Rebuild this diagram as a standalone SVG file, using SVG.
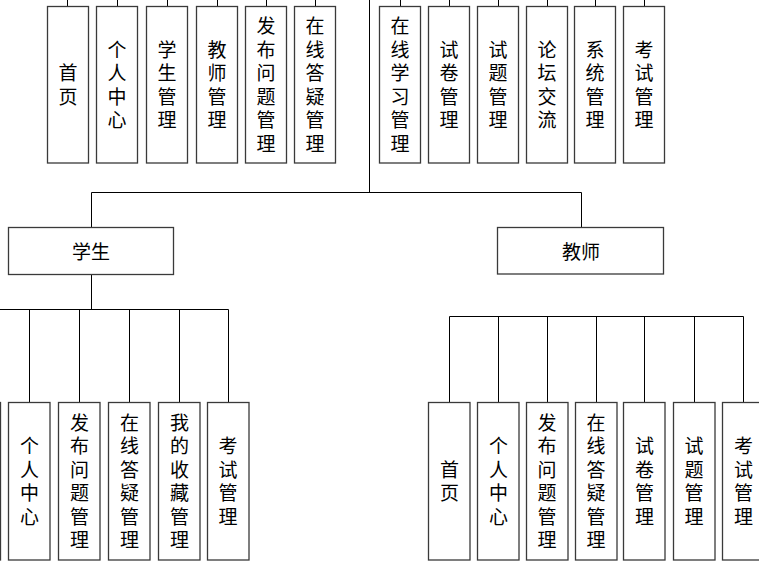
<svg xmlns="http://www.w3.org/2000/svg" width="759" height="562" viewBox="0 0 759 562">
<style>
.box{fill:#fff;stroke:#3a3a3a;stroke-width:1.3}
.ln{fill:none;stroke:#000;stroke-width:1}
.t{font-family:"Noto Sans CJK SC","Liberation Sans",sans-serif;font-size:19px;fill:#000;text-anchor:middle;dominant-baseline:central}
.v{font-family:"Noto Sans CJK SC","Liberation Sans",sans-serif;font-size:19px;fill:#000;text-anchor:middle;writing-mode:vertical-rl;letter-spacing:4.5px}
</style>
<rect width="759" height="562" fill="#fff"/>
<g id="connectors">
<path class="ln" d="M67.5 0V6.5M117.5 0V6.5M167.5 0V6.5M217.5 0V6.5M266.5 0V6.5M315.5 0V6.5M400.5 0V6.5M449.5 0V6.5M498.5 0V6.5M547.5 0V6.5M595.5 0V6.5M644.5 0V6.5"/>
<path class="ln" d="M369.5 0V192.5M91.5 192.5H581.5M91.5 192.5V227.5M581.5 192.5V227.5"/>
<path class="ln" d="M91.5 274.5V309.5M0 309.5H228.5M29.5 309.5V402.5M79.5 309.5V402.5M129.5 309.5V402.5M179.5 309.5V402.5M228.5 309.5V402.5"/>
<path class="ln" d="M449.5 316.5H743.5M449.5 316.5V402.5M498.5 316.5V402.5M547.5 316.5V402.5M596.5 316.5V402.5M644.5 316.5V402.5M694.5 316.5V402.5M743.5 316.5V402.5"/>
</g>
<g id="n-home"><rect class="box" x="47.5" y="6.5" width="41" height="156.5"/><text class="v" x="68" y="87">首页</text></g>
<g id="n-personal"><rect class="box" x="96.5" y="6.5" width="41" height="156.5"/><text class="v" x="117" y="87">个人中心</text></g>
<g id="n-stumgr"><rect class="box" x="146.5" y="6.5" width="41" height="156.5"/><text class="v" x="167" y="87">学生管理</text></g>
<g id="n-teamgr"><rect class="box" x="196.5" y="6.5" width="41" height="156.5"/><text class="v" x="217" y="87">教师管理</text></g>
<g id="n-question"><rect class="box" x="245.5" y="6.5" width="41" height="156.5"/><text class="v" x="266" y="87">发布问题管理</text></g>
<g id="n-answer"><rect class="box" x="294.5" y="6.5" width="41" height="156.5"/><text class="v" x="315" y="87">在线答疑管理</text></g>
<g id="n-study"><rect class="box" x="379.5" y="6.5" width="41" height="156.5"/><text class="v" x="400" y="87">在线学习管理</text></g>
<g id="n-paper"><rect class="box" x="428.5" y="6.5" width="41" height="156.5"/><text class="v" x="449" y="87">试卷管理</text></g>
<g id="n-item"><rect class="box" x="477.5" y="6.5" width="41" height="156.5"/><text class="v" x="498" y="87">试题管理</text></g>
<g id="n-forum"><rect class="box" x="526.5" y="6.5" width="41" height="156.5"/><text class="v" x="547" y="87">论坛交流</text></g>
<g id="n-system"><rect class="box" x="574.5" y="6.5" width="41" height="156.5"/><text class="v" x="595" y="87">系统管理</text></g>
<g id="n-exam"><rect class="box" x="623.5" y="6.5" width="41" height="156.5"/><text class="v" x="644" y="87">考试管理</text></g>
<g id="n-student"><rect class="box" x="8.5" y="227.5" width="165" height="47"/><text class="t" x="91" y="250">学生</text></g>
<g id="n-teacher"><rect class="box" x="497.5" y="227.5" width="166" height="46.5"/><text class="t" x="581" y="250">教师</text></g>
<g id="s-hidden"><rect class="box" x="-41" y="402.5" width="41.5" height="157.5"/></g>
<g id="s-personal"><rect class="box" x="8.5" y="402.5" width="41.5" height="157.5"/><text class="v" x="29.5" y="483.5">个人中心</text></g>
<g id="s-question"><rect class="box" x="58.5" y="402.5" width="41.5" height="157.5"/><text class="v" x="79.5" y="483.5">发布问题管理</text></g>
<g id="s-answer"><rect class="box" x="108.5" y="402.5" width="41.5" height="157.5"/><text class="v" x="129.5" y="483.5">在线答疑管理</text></g>
<g id="s-favorite"><rect class="box" x="158.5" y="402.5" width="41.5" height="157.5"/><text class="v" x="179.5" y="483.5">我的收藏管理</text></g>
<g id="s-exam"><rect class="box" x="207.5" y="402.5" width="41.5" height="157.5"/><text class="v" x="228" y="483.5">考试管理</text></g>
<g id="t-home"><rect class="box" x="428.5" y="402.5" width="41.5" height="157.5"/><text class="v" x="449.5" y="483.5">首页</text></g>
<g id="t-personal"><rect class="box" x="477.5" y="402.5" width="41.5" height="157.5"/><text class="v" x="498.5" y="483.5">个人中心</text></g>
<g id="t-question"><rect class="box" x="526.5" y="402.5" width="41.5" height="157.5"/><text class="v" x="547" y="483.5">发布问题管理</text></g>
<g id="t-answer"><rect class="box" x="575.5" y="402.5" width="41.5" height="157.5"/><text class="v" x="596" y="483.5">在线答疑管理</text></g>
<g id="t-paper"><rect class="box" x="623.5" y="402.5" width="41.5" height="157.5"/><text class="v" x="644.5" y="483.5">试卷管理</text></g>
<g id="t-item"><rect class="box" x="673.5" y="402.5" width="41.5" height="157.5"/><text class="v" x="694" y="483.5">试题管理</text></g>
<g id="t-exam"><rect class="box" x="722.5" y="402.5" width="41.5" height="157.5"/><text class="v" x="743.5" y="483.5">考试管理</text></g>
</svg>
